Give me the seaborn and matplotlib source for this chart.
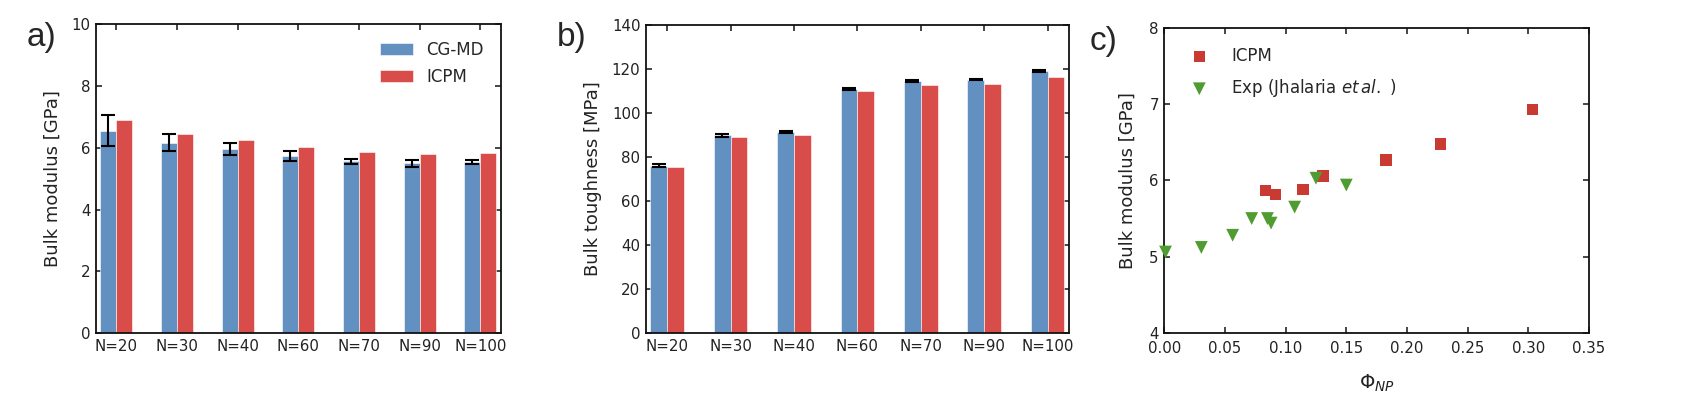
import numpy as np
import pandas as pd
import matplotlib
matplotlib.use("Agg")
import matplotlib.pyplot as plt
import seaborn as sns

# ---- data ----
n_labels = ["N=20", "N=30", "N=40", "N=60", "N=70", "N=90", "N=100"]

modulus_cgmd = [6.56, 6.17, 5.97, 5.75, 5.57, 5.50, 5.54]
modulus_cgmd_err = [0.50, 0.28, 0.19, 0.16, 0.08, 0.12, 0.06]
modulus_icpm = [6.90, 6.44, 6.25, 6.04, 5.86, 5.79, 5.84]

tough_cgmd = [76.0, 89.7, 91.2, 110.9, 114.4, 115.1, 118.9]
tough_cgmd_err = [0.7, 0.6, 0.5, 0.5, 0.4, 0.4, 0.4]
tough_icpm = [75.5, 89.0, 89.9, 109.7, 112.5, 113.0, 116.2]

phi_icpm = [0.0835, 0.0918, 0.1143, 0.1308, 0.1827, 0.2277, 0.3036]
k_icpm = [5.87, 5.82, 5.88, 6.06, 6.27, 6.48, 6.93]

phi_exp = [0.001, 0.0305, 0.0563, 0.072, 0.085, 0.088, 0.1074, 0.125, 0.150]
k_exp = [5.06, 5.12, 5.28, 5.50, 5.50, 5.44, 5.65, 6.03, 5.94]

BLUE = "#6290c1"
RED = "#d84c4a"
SQ_RED = "#c93a33"
GREEN = "#4f9c31"

sns.set_style("ticks")
plt.rcParams.update({"font.family": ["DejaVu Sans"], "font.size": 10,
                     "axes.linewidth": 1.3})

fig = plt.figure(figsize=(16.98, 3.97), dpi=100)


def style_axis(ax):
    ax.tick_params(direction="in", top=True, right=True, length=4, width=1.2,
                   labelsize=10.8, pad=4, labelcolor="#222222")
    for sp in ax.spines.values():
        sp.set_visible(True)
        sp.set_color("#111111")


def bar_panel(ax, cgmd, err, icpm, ylabel, ylim, yticks, legend):
    df = pd.DataFrame({
        "N": n_labels * 2,
        "value": cgmd + icpm,
        "method": ["CG-MD"] * len(n_labels) + ["ICPM"] * len(n_labels),
    })
    sns.barplot(data=df, x="N", y="value", hue="method", order=n_labels,
                palette=[BLUE, RED], width=0.53, errorbar=None,
                saturation=1, edgecolor="white", linewidth=0.4, ax=ax)
    # error bars on the CG-MD bars, centred on seaborn's own bar positions
    bars = ax.containers[0]
    xs = [b.get_x() + b.get_width() / 2 for b in bars]
    ax.errorbar(xs, cgmd, yerr=err, fmt="none", ecolor="black",
                elinewidth=1.5, capsize=5, capthick=1.5, zorder=5)
    ax.set_xlim(-0.335, len(n_labels) - 1 + 0.335)
    ax.set_ylim(*ylim)
    ax.set_yticks(yticks)
    ax.set_xlabel("")
    ax.set_ylabel(ylabel, fontsize=13, labelpad=7, color="#222222")
    style_axis(ax)
    if legend:
        ax.legend(frameon=False, loc="upper right", fontsize=12,
                  handlelength=2.0, handleheight=0.75, handletextpad=0.8,
                  labelspacing=0.55, borderaxespad=0.6)
    else:
        ax.get_legend().remove()


ax_a = fig.add_axes([0.0565, 0.1605, 0.2383, 0.7783])
bar_panel(ax_a, modulus_cgmd, modulus_cgmd_err, modulus_icpm,
          "Bulk modulus [GPa]", (0, 10), [0, 2, 4, 6, 8, 10], True)

ax_b = fig.add_axes([0.3804, 0.1612, 0.2491, 0.7766])
bar_panel(ax_b, tough_cgmd, tough_cgmd_err, tough_icpm,
          "Bulk toughness [MPa]", (0, 140), list(range(0, 141, 20)), False)

# ---- panel c ----
ax_c = fig.add_axes([0.6857, 0.1620, 0.2501, 0.7667])
sns.scatterplot(x=phi_icpm, y=k_icpm, marker="s", s=66, color=SQ_RED,
                edgecolor="none", label="ICPM", ax=ax_c, zorder=3)
sns.scatterplot(x=phi_exp, y=k_exp, marker="v", s=85, color=GREEN,
                edgecolor="none", label=r"Exp (Jhalaria $\it{et\,al.}$ )",
                ax=ax_c, zorder=4, clip_on=False)
ax_c.set_xlim(0, 0.35)
ax_c.set_ylim(4, 8)
ax_c.set_xticks(np.arange(0, 0.351, 0.05))
ax_c.set_xticklabels([f"{v:.2f}" for v in np.arange(0, 0.351, 0.05)])
ax_c.set_yticks([4, 5, 6, 7, 8])
ax_c.set_xlabel(r"$\Phi_{NP}$", fontsize=14, labelpad=12, color="#222222")
ax_c.set_ylabel("Bulk modulus [GPa]", fontsize=13, labelpad=9, color="#222222")
style_axis(ax_c)
ax_c.tick_params(axis="x", pad=6)
ax_c.legend(frameon=False, loc="upper left", fontsize=12, handletextpad=0.9,
            labelspacing=0.75, borderaxespad=0.7, markerscale=1.0)

# panel letters
for txt, xpos, ypos in [("a)", 0.0155, 0.945), ("b)", 0.3280, 0.945), ("c)", 0.6420, 0.935)]:
    fig.text(xpos, ypos, txt, fontsize=24, family="Liberation Sans",
             ha="left", va="top")

fig.savefig("out.png", dpi=100)
